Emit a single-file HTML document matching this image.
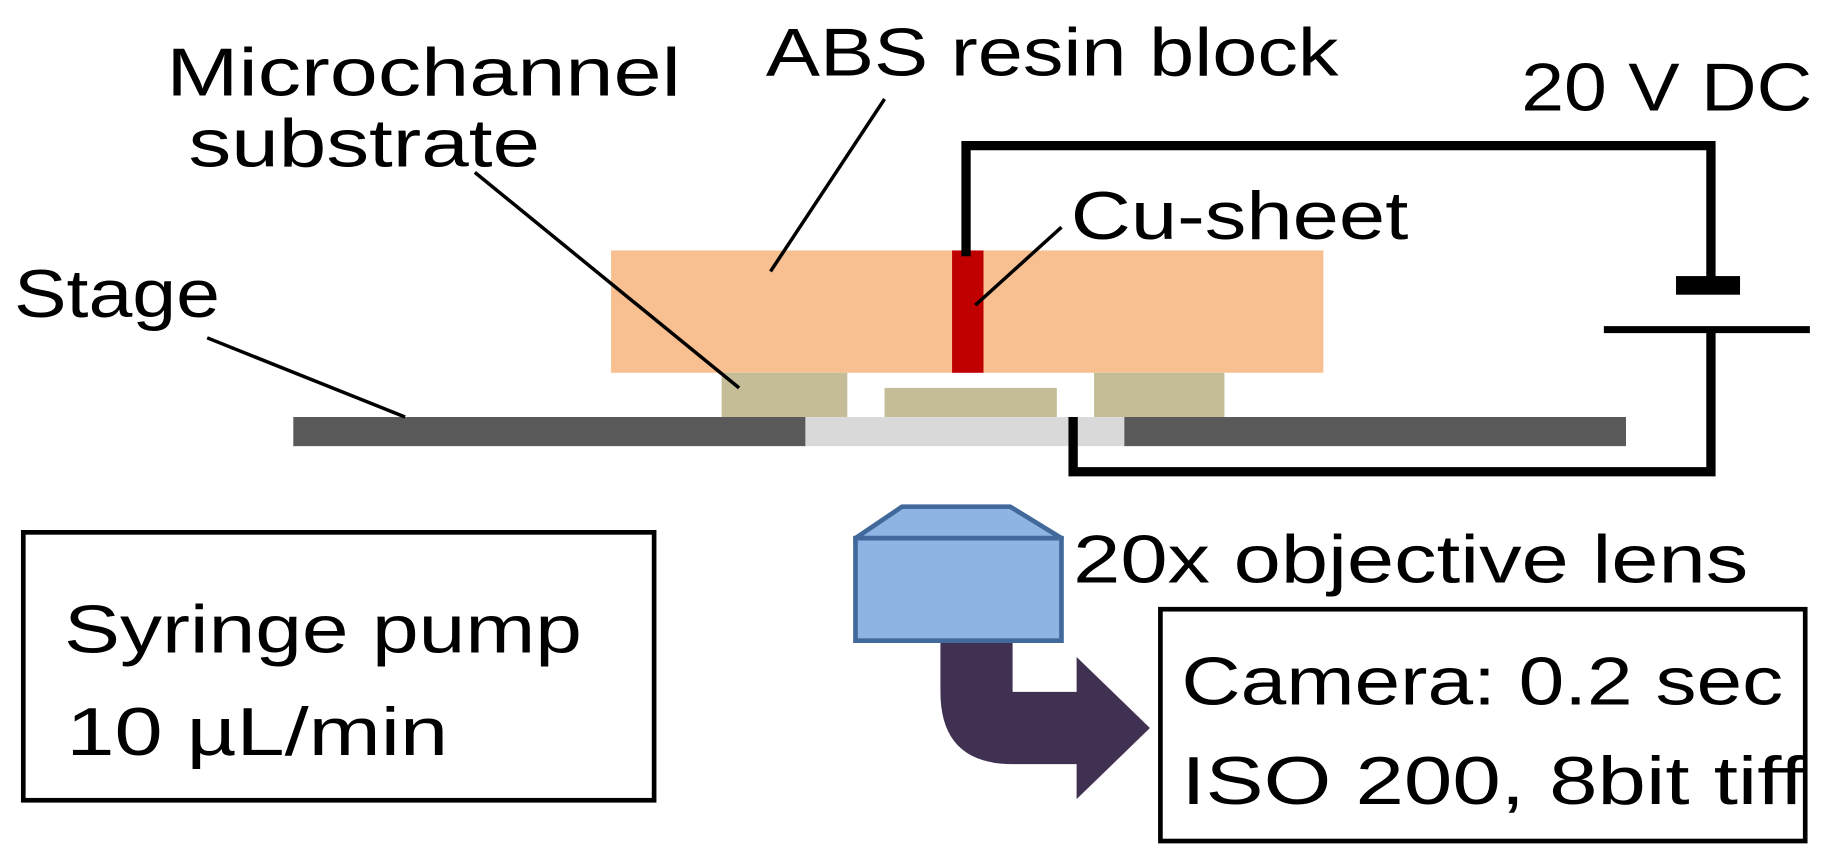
<!DOCTYPE html>
<html><head><meta charset="utf-8"><style>
html,body{margin:0;padding:0;background:#fff;}
svg{display:block;}
text{font-family:"Liberation Sans",sans-serif;fill:#000;}
</style></head><body>
<svg width="1825" height="862" viewBox="0 0 1568 740" preserveAspectRatio="none" xmlns="http://www.w3.org/2000/svg">
<!-- block -->
<rect x="525" y="215" width="612" height="105" fill="#f8c091"/>
<rect x="818" y="215" width="27" height="105" fill="#c00000"/>
<!-- beige -->
<rect x="620" y="320" width="108" height="38" fill="#c4bd97"/>
<rect x="760" y="333" width="148" height="25" fill="#c4bd97"/>
<rect x="940" y="320" width="112" height="38" fill="#c4bd97"/>
<!-- stage -->
<rect x="252" y="358" width="440" height="25" fill="#595959"/>
<rect x="692" y="358" width="274" height="25" fill="#d9d9d9"/>
<rect x="966" y="358" width="431" height="25" fill="#595959"/>
<!-- wire -->
<polyline points="830,220 830,125 1470,125 1470,240" fill="none" stroke="#000" stroke-width="8"/>
<rect x="1440" y="237" width="55" height="16" fill="#000"/>
<line x1="1378" y1="283" x2="1555" y2="283" stroke="#000" stroke-width="6"/>
<polyline points="1470,283 1470,405 922,405 922,358" fill="none" stroke="#000" stroke-width="8"/>
<!-- leaders -->
<g stroke="#000" stroke-width="3">
<line x1="178" y1="290" x2="348" y2="358"/>
<line x1="408" y1="148" x2="635" y2="333"/>
<line x1="760" y1="85" x2="662" y2="233"/>
<line x1="912" y1="195" x2="838" y2="262"/>
</g>
<!-- lens -->
<polygon points="735,462 775,435 868,435 912,462" fill="#8eb4e3" stroke="#41699b" stroke-width="4" stroke-linejoin="round"/>
<rect x="735" y="462" width="177" height="88" fill="#8eb4e3" stroke="#41699b" stroke-width="4"/>
<!-- arrow -->
<path d="M808,552 L870,552 L870,594 L925,594 L925,564 L988,625 L925,686 L925,656 L870,656 Q808,656 808,594 Z" fill="#403152"/>
<!-- boxes -->
<rect x="20" y="457" width="542" height="230" fill="none" stroke="#000" stroke-width="4"/>
<rect x="997" y="523" width="554" height="199" fill="none" stroke="#000" stroke-width="4"/>
<!-- text -->
<g font-size="58">
<text x="143" y="82" textLength="442" lengthAdjust="spacingAndGlyphs">Microchannel</text>
<text x="162" y="143" textLength="302" lengthAdjust="spacingAndGlyphs">substrate</text>
<text x="658" y="65" textLength="492" lengthAdjust="spacingAndGlyphs">ABS resin block</text>
<text x="1307" y="95" textLength="250" lengthAdjust="spacingAndGlyphs">20 V DC</text>
<text x="920" y="205" textLength="290" lengthAdjust="spacingAndGlyphs">Cu-sheet</text>
<text x="12" y="272" textLength="177" lengthAdjust="spacingAndGlyphs">Stage</text>
<text x="922" y="500" textLength="580" lengthAdjust="spacingAndGlyphs">20x objective lens</text>
<text x="55" y="560" textLength="445" lengthAdjust="spacingAndGlyphs">Syringe pump</text>
<text x="57" y="648" textLength="328" lengthAdjust="spacingAndGlyphs">10 µL/min</text>
<text x="1015" y="605" textLength="517" lengthAdjust="spacingAndGlyphs">Camera: 0.2 sec</text>
<text x="1015" y="690" textLength="535" lengthAdjust="spacingAndGlyphs">ISO 200, 8bit tiff</text>
</g>
</svg>
</body></html>
